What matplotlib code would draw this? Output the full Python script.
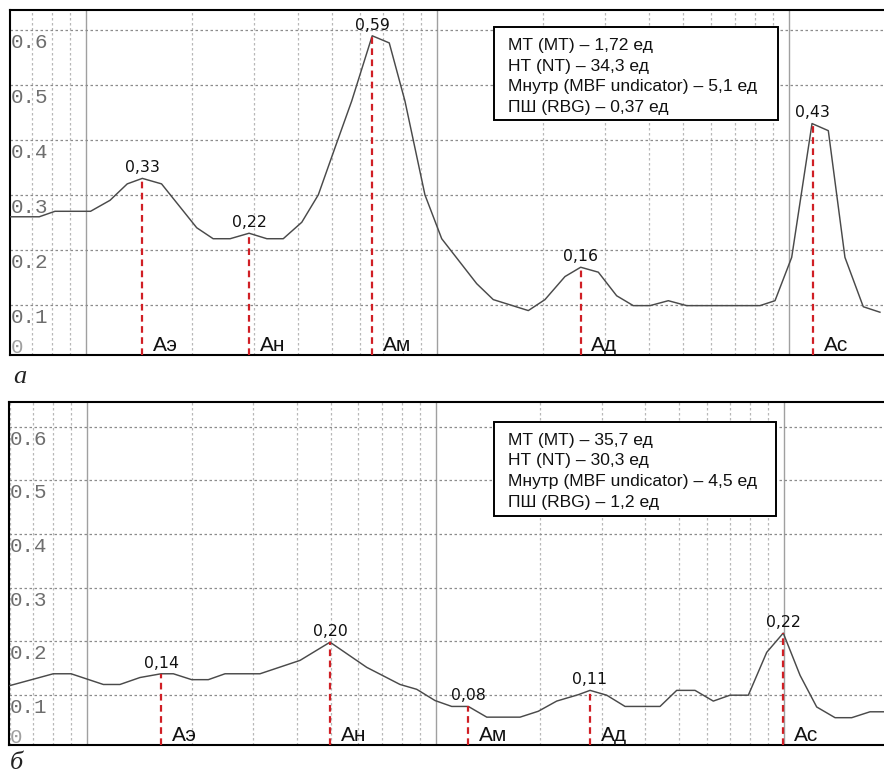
import numpy as np
import matplotlib
matplotlib.use('Agg')
import matplotlib.pyplot as plt
from matplotlib.ticker import LogLocator
from matplotlib.patches import Rectangle

# ---------------- data ----------------
# panel "а"
freq_a = [0.0061, 0.00736, 0.00816, 0.0103, 0.0117, 0.0131, 0.01446, 0.0164, 0.02065,
          0.0230, 0.0257, 0.0291, 0.0327, 0.0364, 0.0411, 0.0458, 0.0511, 0.0570,
          0.0652, 0.0729, 0.0808, 0.0921, 0.1028, 0.1293, 0.1441, 0.1813, 0.2022,
          0.2305, 0.2555, 0.2868, 0.3234, 0.3606, 0.4024, 0.4536, 0.5117, 0.8269,
          0.9125, 1.018, 1.163, 1.294, 1.443, 1.627, 1.815]
amp_a = [0.26, 0.26, 0.27, 0.27, 0.29, 0.32, 0.33, 0.32, 0.24,
         0.22, 0.22, 0.23, 0.22, 0.22, 0.25, 0.30, 0.386, 0.471,
         0.59, 0.577, 0.471, 0.30, 0.22, 0.138, 0.109, 0.089, 0.109,
         0.151, 0.168, 0.159, 0.116, 0.098, 0.098, 0.107, 0.098, 0.098,
         0.107, 0.186, 0.43, 0.417, 0.186, 0.096, 0.086]
peak_freq_a = [0.01446, 0.0291, 0.0652, 0.2555, 1.17]
peak_amp_a = [0.33, 0.23, 0.59, 0.168, 0.43]
peak_label_a = ['0,33', '0,22', '0,59', '0,16', '0,43']
legend_a = ['МТ (MT) – 1,72 ед', 'НТ (NT) – 34,3 ед',
            'Мнутр (MBF undicator) – 5,1 ед', 'ПШ (RBG) – 0,37 ед']

# panel "б"
freq_b = [0.00601, 0.0080, 0.0090, 0.01114, 0.01243, 0.01419, 0.01631, 0.01769, 0.01997,
          0.02229, 0.02489, 0.03136, 0.04086, 0.04981, 0.06347, 0.07911, 0.08831,
          0.09967, 0.1113, 0.1242, 0.1403, 0.1748, 0.1972, 0.2227, 0.2570, 0.2776,
          0.3099, 0.3498, 0.4408, 0.4921, 0.5554, 0.6267, 0.6999, 0.790, 0.892,
          0.995, 1.112, 1.241, 1.401, 1.564, 1.765, 1.936]
amp_b = [0.117, 0.139, 0.139, 0.119, 0.119, 0.132, 0.139, 0.139, 0.128,
         0.128, 0.139, 0.139, 0.164, 0.198, 0.151, 0.119, 0.110,
         0.089, 0.078, 0.078, 0.058, 0.058, 0.069, 0.088, 0.100, 0.108,
         0.099, 0.078, 0.078, 0.108, 0.108, 0.088, 0.099, 0.099, 0.179,
         0.215, 0.136, 0.077, 0.057, 0.057, 0.068, 0.068]
peak_freq_b = [0.01631, 0.04981, 0.1242, 0.2776, 0.995]
peak_amp_b = [0.139, 0.198, 0.078, 0.108, 0.215]
peak_label_b = ['0,14', '0,20', '0,08', '0,11', '0,22']
legend_b = ['МТ (MT) – 35,7 ед', 'НТ (NT) – 30,3 ед',
            'Мнутр (MBF undicator) – 4,5 ед', 'ПШ (RBG) – 1,2 ед']

wave_names = ['Аэ', 'Ан', 'Ам', 'Ад', 'Ас']
ytick_vals = [0.1, 0.2, 0.3, 0.4, 0.5, 0.6]
ytick_labels = ['0.1', '0.2', '0.3', '0.4', '0.5', '0.6']
zero_label = '0'
panel_labels = ['а', 'б']

# ---------------- layout ----------------
W, H = 884, 775
fig = plt.figure(figsize=(W / 100, H / 100), dpi=100)


def px_axes(l, t, r, b):
    return [l / W, 1 - b / H, (r - l) / W, (b - t) / H]


ax1 = fig.add_axes(px_axes(10, 10, 884, 355))
ax2 = fig.add_axes(px_axes(9.3, 401.7, 884, 745))

SANS = ['Liberation Sans', 'DejaVu Sans']


def draw_panel(ax, freq, amp, pf, pa, pl, legend_lines, xlim, ylim,
               box, text_x, baselines):
    ax.set_xscale('log')
    ax.set_xlim(*xlim)
    ax.set_ylim(*ylim)
    ax.xaxis.set_major_locator(LogLocator(base=10, numticks=20))
    ax.xaxis.set_minor_locator(LogLocator(base=10, subs=np.arange(2, 10), numticks=20))
    ax.set_yticks(ytick_vals)
    ax.tick_params(which='both', length=0, labelbottom=False, labelleft=False)
    ax.grid(which='major', axis='x', color='#a0a0a0', lw=1.0, ls='-')
    ax.grid(which='minor', axis='x', color='#b8b8b8', lw=0.9, ls=(0, (2, 2)))
    ax.grid(which='major', axis='y', color='#8c8c8c', lw=0.9, ls=(0, (2, 2)))
    ax.set_axisbelow(True)
    for s in ['left', 'top', 'bottom']:
        ax.spines[s].set_linewidth(1.5)
        ax.spines[s].set_color('black')
    ax.spines['right'].set_visible(False)

    # y labels inside the plot
    for v, lab in zip(ytick_vals, ytick_labels):
        ax.annotate(lab, (0, v), xycoords=('axes fraction', 'data'),
                    xytext=(0.5, -13), textcoords='offset points',
                    ha='left', va='baseline', family='Liberation Mono',
                    fontsize=15, color='#6e6e6e')
    ax.annotate(zero_label, (0, 0), xycoords='axes fraction',
                xytext=(0.5, 1.5), textcoords='offset points',
                ha='left', va='baseline', family='Liberation Mono',
                fontsize=15, color='#a0a0a0')

    # curve
    ax.plot(freq, amp, color='#4a4a4a', lw=1.05, zorder=3)

    # red markers
    for f, a, lab, name in zip(pf, pa, pl, wave_names):
        ax.plot([f, f], [ylim[0], a], color='#d01f25', lw=1.6,
                ls=(0, (3, 2)), zorder=4)
        ax.annotate(lab, (f, a), xytext=(0, 4.5), textcoords='offset points',
                    ha='center', va='baseline', fontsize=11.3,
                    family='DejaVu Sans', color='#111111', zorder=6)
        ax.annotate(name, (f, 0), xycoords=('data', 'axes fraction'),
                    xytext=(7.6, 3.2), textcoords='offset points',
                    ha='left', va='baseline', fontsize=15,
                    family=SANS, color='#111111', zorder=6)

    # info box
    x0, y0, x1, y1 = box
    ax.add_patch(Rectangle((x0, y0), x1 - x0, y1 - y0, transform=ax.transAxes,
                           facecolor='white', edgecolor='black', lw=1.4, zorder=7))
    for line, yb in zip(legend_lines, baselines):
        ax.text(text_x, yb, line, transform=ax.transAxes, ha='left',
                va='baseline', fontsize=12.6, family=SANS, color='#111111',
                zorder=8)


draw_panel(ax1, freq_a, amp_a, peak_freq_a, peak_amp_a, peak_label_a, legend_a,
           (0.006077, 1.8637), (0.008, 0.637),
           (0.5538, 0.6812, 0.8787, 0.9516), 0.5698,
           [0.8841, 0.8241, 0.7641, 0.7043])
draw_panel(ax2, freq_b, amp_b, peak_freq_b, peak_amp_b, peak_label_b, legend_b,
           (0.005984, 1.936), (0.006, 0.647),
           (0.5541, 0.6671, 0.8765, 0.9400), 0.5705,
           [0.8739, 0.8142, 0.7544, 0.6947])

fig.text(13 / W, 1 - 383 / H, panel_labels[0], family='Liberation Serif',
         style='italic', fontsize=19, ha='left', va='baseline', color='#222222')
fig.text(10 / W, 1 - 769 / H, panel_labels[1], family='Liberation Serif',
         style='italic', fontsize=19, ha='left', va='baseline', color='#222222')

fig.savefig('out.png', dpi=100)
